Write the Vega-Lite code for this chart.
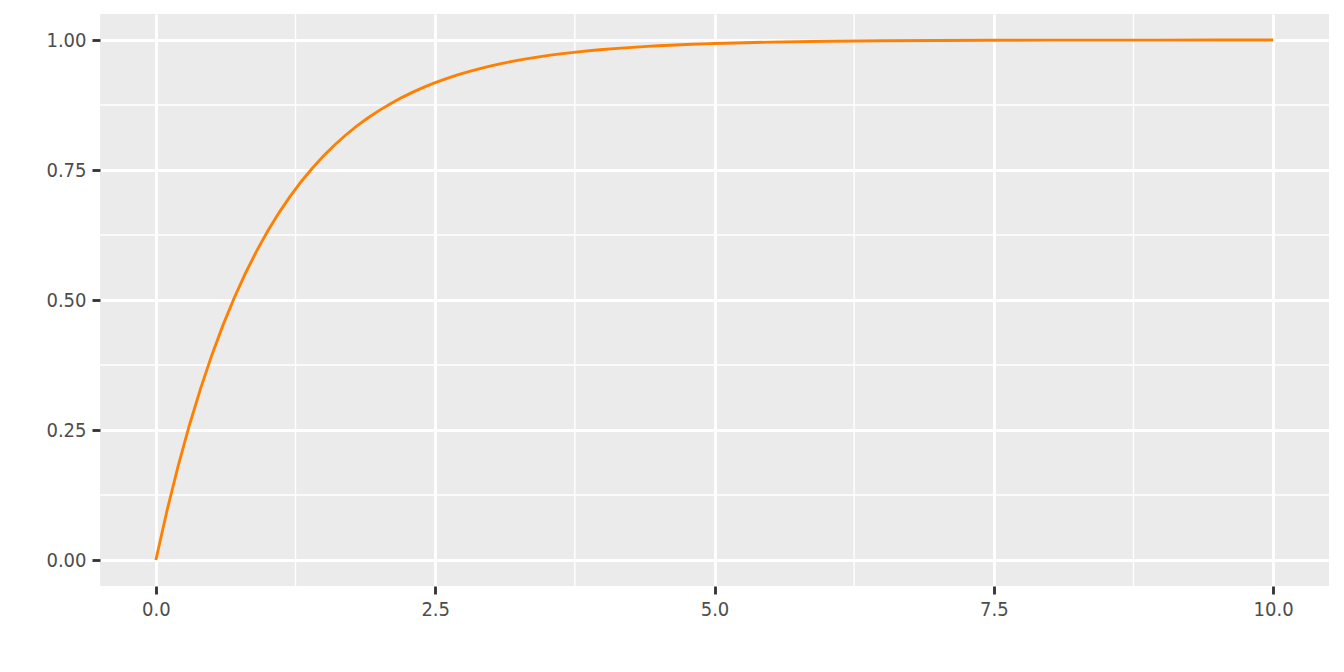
{
  "$schema": "https://vega.github.io/schema/vega-lite/v6.json",
  "width": 1229,
  "height": 572,
  "autosize": "none",
  "padding": {"left": 100, "top": 14, "right": 15, "bottom": 86},
  "background": "white",
  "config": {
    "view": {"fill": "#EBEBEB", "stroke": null},
    "axis": {
      "labelFont": "Liberation Sans Narrow, DejaVu Sans Condensed, sans-serif",
      "labelFontSize": 20,
      "labelColor": "#4D4D4D",
      "tickColor": "#333333",
      "tickSize": 8,
      "tickWidth": 2.85,
      "domain": false,
      "grid": true,
      "gridColor": "#FFFFFF",
      "gridWidth": 2.85,
      "title": null
    }
  },
  "datasets": {
    "curve": [
      {"x": 0, "y": 0},
      {"x": 0.1, "y": 0.095163},
      {"x": 0.2, "y": 0.181269},
      {"x": 0.3, "y": 0.259182},
      {"x": 0.4, "y": 0.32968},
      {"x": 0.5, "y": 0.393469},
      {"x": 0.6, "y": 0.451188},
      {"x": 0.7, "y": 0.503415},
      {"x": 0.8, "y": 0.550671},
      {"x": 0.9, "y": 0.59343},
      {"x": 1.0, "y": 0.632121},
      {"x": 1.1, "y": 0.667129},
      {"x": 1.2, "y": 0.698806},
      {"x": 1.3, "y": 0.727468},
      {"x": 1.4, "y": 0.753403},
      {"x": 1.5, "y": 0.77687},
      {"x": 1.6, "y": 0.798103},
      {"x": 1.7, "y": 0.817316},
      {"x": 1.8, "y": 0.834701},
      {"x": 1.9, "y": 0.850431},
      {"x": 2.0, "y": 0.864665},
      {"x": 2.1, "y": 0.877544},
      {"x": 2.2, "y": 0.889197},
      {"x": 2.3, "y": 0.899741},
      {"x": 2.4, "y": 0.909282},
      {"x": 2.5, "y": 0.917915},
      {"x": 2.6, "y": 0.925726},
      {"x": 2.7, "y": 0.932794},
      {"x": 2.8, "y": 0.93919},
      {"x": 2.9, "y": 0.944977},
      {"x": 3.0, "y": 0.950213},
      {"x": 3.1, "y": 0.954951},
      {"x": 3.2, "y": 0.959238},
      {"x": 3.3, "y": 0.963117},
      {"x": 3.4, "y": 0.966627},
      {"x": 3.5, "y": 0.969803},
      {"x": 3.6, "y": 0.972676},
      {"x": 3.7, "y": 0.975276},
      {"x": 3.8, "y": 0.977629},
      {"x": 3.9, "y": 0.979758},
      {"x": 4.0, "y": 0.981684},
      {"x": 4.1, "y": 0.983427},
      {"x": 4.2, "y": 0.985004},
      {"x": 4.3, "y": 0.986431},
      {"x": 4.4, "y": 0.987723},
      {"x": 4.5, "y": 0.988891},
      {"x": 4.6, "y": 0.989948},
      {"x": 4.7, "y": 0.990905},
      {"x": 4.8, "y": 0.99177},
      {"x": 4.9, "y": 0.992553},
      {"x": 5.0, "y": 0.993262},
      {"x": 5.5, "y": 0.995913},
      {"x": 6.0, "y": 0.997521},
      {"x": 6.5, "y": 0.998497},
      {"x": 7.0, "y": 0.999088},
      {"x": 7.5, "y": 0.999447},
      {"x": 8.0, "y": 0.999665},
      {"x": 8.5, "y": 0.999797},
      {"x": 9.0, "y": 0.999877},
      {"x": 9.5, "y": 0.999925},
      {"x": 10.0, "y": 0.999955}
    ],
    "minorx": [{"x": 1.25}, {"x": 3.75}, {"x": 6.25}, {"x": 8.75}],
    "minory": [{"y": 0.125}, {"y": 0.375}, {"y": 0.625}, {"y": 0.875}]
  },
  "layer": [
    {
      "data": {"name": "minorx"},
      "mark": {"type": "rule", "color": "#FFFFFF", "strokeWidth": 1.4},
      "encoding": {
        "x": {"field": "x", "type": "quantitative", "scale": {"domain": [-0.5, 10.5], "nice": false, "zero": false}}
      }
    },
    {
      "data": {"name": "minory"},
      "mark": {"type": "rule", "color": "#FFFFFF", "strokeWidth": 1.4},
      "encoding": {
        "y": {"field": "y", "type": "quantitative", "scale": {"domain": [-0.05, 1.05], "nice": false, "zero": false}}
      }
    },
    {
      "data": {"name": "curve"},
      "mark": {"type": "line", "color": "#FF7F00", "strokeWidth": 2.85, "clip": true},
      "encoding": {
        "x": {
          "field": "x", "type": "quantitative",
          "scale": {"domain": [-0.5, 10.5], "nice": false, "zero": false},
          "axis": {"values": [0, 2.5, 5, 7.5, 10], "format": ".1f", "labelPadding": 5}
        },
        "y": {
          "field": "y", "type": "quantitative",
          "scale": {"domain": [-0.05, 1.05], "nice": false, "zero": false},
          "axis": {"values": [0, 0.25, 0.5, 0.75, 1], "format": ".2f", "labelPadding": 6}
        }
      }
    }
  ]
}
